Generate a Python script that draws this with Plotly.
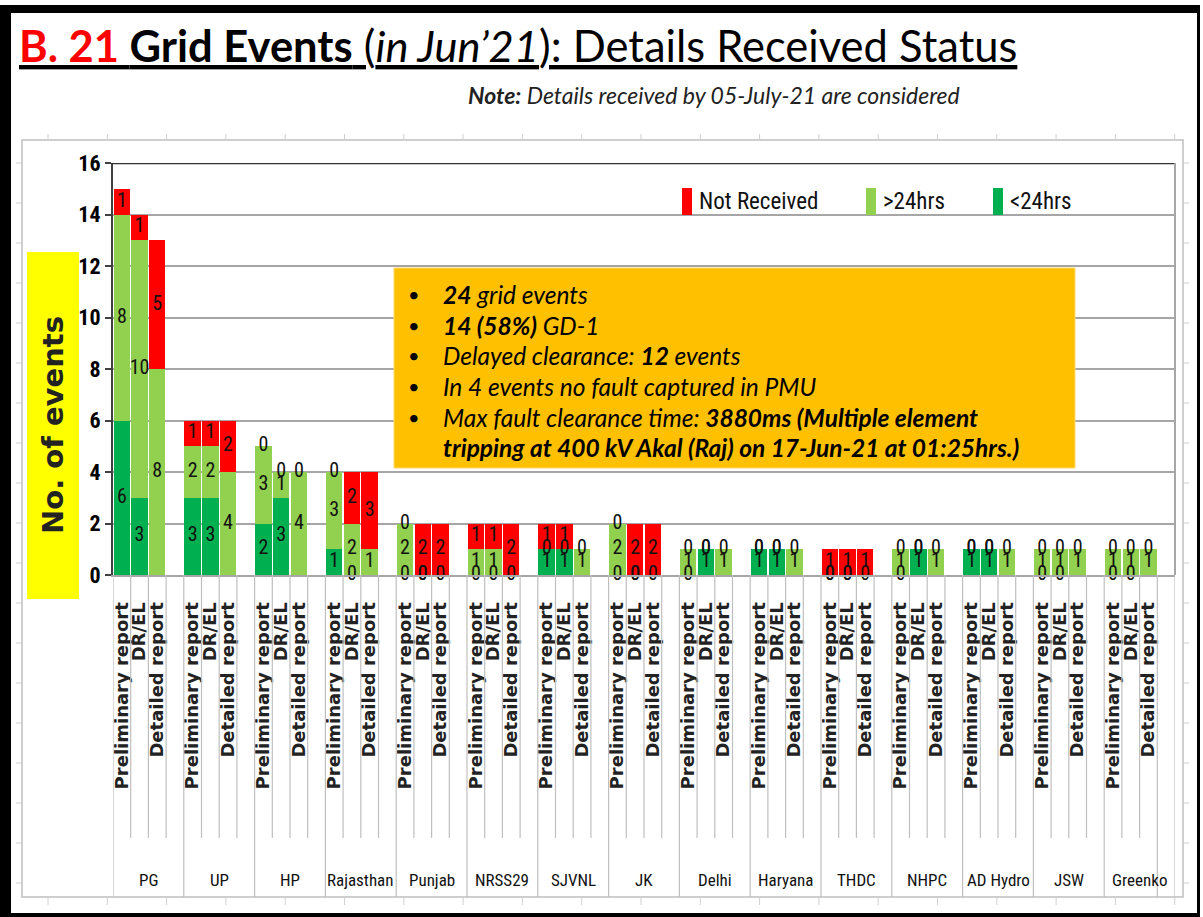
import plotly.graph_objects as go

# ---------------- data ----------------
orgs = ["PG", "UP", "HP", "Rajasthan", "Punjab", "NRSS29", "SJVNL", "JK",
        "Delhi", "Haryana", "THDC", "NHPC", "AD Hydro", "JSW", "Greenko"]
report_types = ["Preliminary report", "DR/EL", "Detailed report"]

# per org: [Preliminary, DR/EL, Detailed]
lt24 = [[6, 3, None], [3, 3, None], [2, 3, None], [1, 0, None], [0, 0, None],
        [0, 0, None], [1, 1, None], [0, 0, None], [0, 1, None], [1, 1, None],
        [0, 0, None], [0, 1, None], [1, 1, None], [0, 0, None], [0, 0, None]]
gt24 = [[8, 10, 8], [2, 2, 4], [3, 1, 4], [3, 2, 1], [2, 0, 0],
        [1, 1, 0], [0, 0, 1], [2, 0, 0], [1, 0, 1], [0, 0, 1],
        [0, 0, 0], [1, 0, 1], [0, 0, 1], [1, 1, 1], [1, 1, 1]]
not_recv = [[1, 1, 5], [1, 1, 2], [0, 0, 0], [0, 2, 3], [0, 2, 2],
            [1, 1, 2], [1, 1, 0], [0, 2, 2], [0, 0, 0], [0, 0, 0],
            [1, 1, 1], [0, 0, 0], [0, 0, 0], [0, 0, 0], [0, 0, 0]]

series_names = ["<24hrs", ">24hrs", "Not Received"]
series_colors = ["#00B050", "#92D050", "#FF0000"]

title_text = ("<u><span style='color:#FF0000'><b>B. 21 </b></span>"
              "<b>Grid Events</b> (<i>in Jun\u201921</i>): Details Received Status</u>")
note_text = "<b><i>Note:</i></b><i> Details received by 05-July-21 are considered</i>"
box_lines = [
    "<b><i>24</i></b><i> grid events</i>",
    "<b><i>14 (58%)</i></b><i> GD-1</i>",
    "<i>Delayed clearance: </i><b><i>12</i></b><i> events</i>",
    "<i>In 4 events no fault captured in PMU</i>",
    "<i>Max fault clearance time: </i><b><i>3880ms (Multiple element</i></b>",
    "<b><i>tripping at 400 kV Akal (Raj) on 17-Jun-21 at 01:25hrs.)</i></b>",
]
box_bullets = [True, True, True, True, True, False]
y_title = "No. of events"

# ---------------- helpers ----------------
W, H = 1203, 917
def fx(px):
    return px / W
def fy(py):
    return 1 - py / H

NARROW = "Liberation Sans Narrow, Arial Narrow, Roboto Condensed, sans-serif"
CALI = "Lato, Carlito, Calibri, sans-serif"
VERD = "DejaVu Sans"

slots, ticktext = [], []
for g in range(len(orgs)):
    for b in range(len(report_types)):
        slots.append(g * 4 + b)
        ticktext.append(report_types[b])

flat = [[v for row in s for v in row] for s in (lt24, gt24, not_recv)]

fig = go.Figure()
base = [0] * len(slots)
label_x, label_y, label_t = [], [], []
for si, vals in enumerate(flat):
    fig.add_trace(go.Bar(x=slots, y=vals, name=series_names[si],
                         marker=dict(color=series_colors[si], line=dict(width=0)),
                         width=0.93, showlegend=False, hoverinfo="y+name"))
    for i, v in enumerate(vals):
        if v is None:
            continue
        label_x.append(slots[i])
        label_y.append(base[i] + v / 2)
        label_t.append(str(v))
        base[i] += v

fig.add_trace(go.Scatter(x=label_x, y=label_y, text=label_t, mode="text",
                         textfont=dict(family=NARROW, size=20, color="#111111"),
                         cliponaxis=False, showlegend=False, hoverinfo="skip"))

shapes = []
# black page frame
for x0, y0, x1, y1 in [(0, 5, 11, 917), (0, 5, 1200, 13), (1197, 5, 1200, 917), (0, 913, 1200, 917)]:
    shapes.append(dict(type="rect", xref="paper", yref="paper", x0=fx(x0), x1=fx(x1),
                       y0=fy(y1), y1=fy(y0), fillcolor="black", line=dict(width=0), layer="above"))
# outer chart frame
shapes.append(dict(type="rect", xref="paper", yref="paper", x0=fx(22), x1=fx(1183),
                   y0=fy(897), y1=fy(140), line=dict(color="#BFBFBF", width=1.5), layer="below"))
for k in range(20):
    xx = 48 + 59.3 * k
    if xx < 1183:
        for ya, yb in [(134, 140), (897, 905)]:
            shapes.append(dict(type="line", xref="paper", yref="paper", x0=fx(xx), x1=fx(xx),
                               y0=fy(ya), y1=fy(yb), line=dict(color="#D0D0D0", width=1)))
for k in range(20):
    yy = 163 + 40 * k
    if yy < 897:
        for xa, xb in [(16, 22), (1183, 1189)]:
            shapes.append(dict(type="line", xref="paper", yref="paper", x0=fx(xa), x1=fx(xb),
                               y0=fy(yy), y1=fy(yy), line=dict(color="#D0D0D0", width=1)))
# plot top and right border
shapes.append(dict(type="line", xref="paper", yref="y", x0=fx(112), x1=fx(1175), y0=16, y1=16,
                   line=dict(color="#333333", width=2.5)))
shapes.append(dict(type="line", xref="paper", yref="paper", x0=fx(1175), x1=fx(1175),
                   y0=fy(575), y1=fy(163), line=dict(color="#A6A6A6", width=2)))
# category divider lines below axis
nslots = len(orgs) * 4
for k in range(nslots + 1):
    full = (k % 4 == 0) or k >= nslots - 1
    shapes.append(dict(type="line", xref="x", yref="paper", x0=k - 0.5, x1=k - 0.5,
                       y0=fy(897 if full else 838), y1=fy(575),
                       line=dict(color="#BFBFBF", width=1.2)))
# yellow y-title box
shapes.append(dict(type="rect", xref="paper", yref="paper", x0=fx(27), x1=fx(79),
                   y0=fy(599), y1=fy(252), fillcolor="#FFFF00", line=dict(width=0)))
# orange info box
shapes.append(dict(type="rect", xref="paper", yref="paper", x0=fx(394), x1=fx(1075),
                   y0=fy(468), y1=fy(268), fillcolor="#FFC000", line=dict(color="#FFD966", width=1),
                   layer="above"))
# legend swatches
legend_items = [(682, 2), (866, 1), (993, 0)]
for px0, si in legend_items:
    shapes.append(dict(type="rect", xref="paper", yref="paper", x0=fx(px0), x1=fx(px0 + 10),
                       y0=fy(215), y1=fy(188), fillcolor=series_colors[si], line=dict(width=0)))

annotations = []
annotations.append(dict(text=title_text, x=fx(17), y=fy(45), xref="paper", yref="paper",
                        xanchor="left", yanchor="middle", showarrow=False,
                        font=dict(family=CALI, size=43.5, color="black")))
annotations.append(dict(text=note_text, x=fx(466), y=fy(95), xref="paper", yref="paper",
                        xanchor="left", yanchor="middle", showarrow=False,
                        font=dict(family=CALI, size=23, color="#222222")))
annotations.append(dict(text="<b>" + y_title + "</b>", x=fx(53), y=fy(425), xref="paper", yref="paper",
                        xanchor="center", yanchor="middle", textangle=-90, showarrow=False,
                        font=dict(family=VERD, size=29, color="#222222")))
for px0, si in legend_items:
    annotations.append(dict(text=series_names[si], x=fx(px0 + 15), y=fy(201), xref="paper", yref="paper",
                            xanchor="left", yanchor="middle", showarrow=False,
                            font=dict(family=NARROW, size=23, color="#111111")))
line_y = [294, 325, 355, 386, 417, 448]
for i, txt in enumerate(box_lines):
    annotations.append(dict(text=txt, x=fx(441), y=fy(line_y[i]), xref="paper", yref="paper",
                            xanchor="left", yanchor="middle", showarrow=False,
                            font=dict(family=CALI, size=24.5, color="black")))
    if box_bullets[i]:
        annotations.append(dict(text="\u2022", x=fx(406), y=fy(line_y[i]), xref="paper", yref="paper",
                                xanchor="left", yanchor="middle", showarrow=False,
                                font=dict(family=CALI, size=20, color="black")))
for g, org in enumerate(orgs):
    annotations.append(dict(text=org, x=g * 4 + 1.5, y=fy(880), xref="x", yref="paper",
                            xanchor="center", yanchor="middle", showarrow=False,
                            font=dict(family=NARROW, size=17, color="#111111")))

fig.update_layout(
    width=W, height=H, autosize=False,
    margin=dict(l=0, r=0, t=0, b=0, pad=0, autoexpand=False),
    paper_bgcolor="white", plot_bgcolor="white",
    barmode="stack",
    xaxis=dict(domain=[fx(113), fx(1175)], range=[-0.5, nslots - 0.5], automargin=False,
               tickmode="array", tickvals=slots, ticktext=ticktext, tickangle=-90,
               tickfont=dict(family=VERD, size=18, color="#222222", weight="bold"),
               ticks="", ticklabelstandoff=18, showgrid=False, zeroline=False,
               showline=True, linecolor="#A6A6A6", linewidth=2, fixedrange=True),
    yaxis=dict(domain=[fy(575), fy(163)], range=[0, 16], dtick=2, automargin=False,
               tickfont=dict(family=NARROW, size=22, color="black", weight="bold"),
               ticks="outside", ticklen=6, tickcolor="#404040", tickwidth=1.5,
               showgrid=True, gridcolor="#A6A6A6", gridwidth=2, zeroline=False,
               showline=True, linecolor="#404040", linewidth=2, fixedrange=True),
    shapes=shapes,
    annotations=annotations,
    showlegend=False,
)

fig.write_html("out.html", config={"displayModeBar": False},
               post_script="document.body.style.margin='0';document.body.style.overflow='hidden';")
